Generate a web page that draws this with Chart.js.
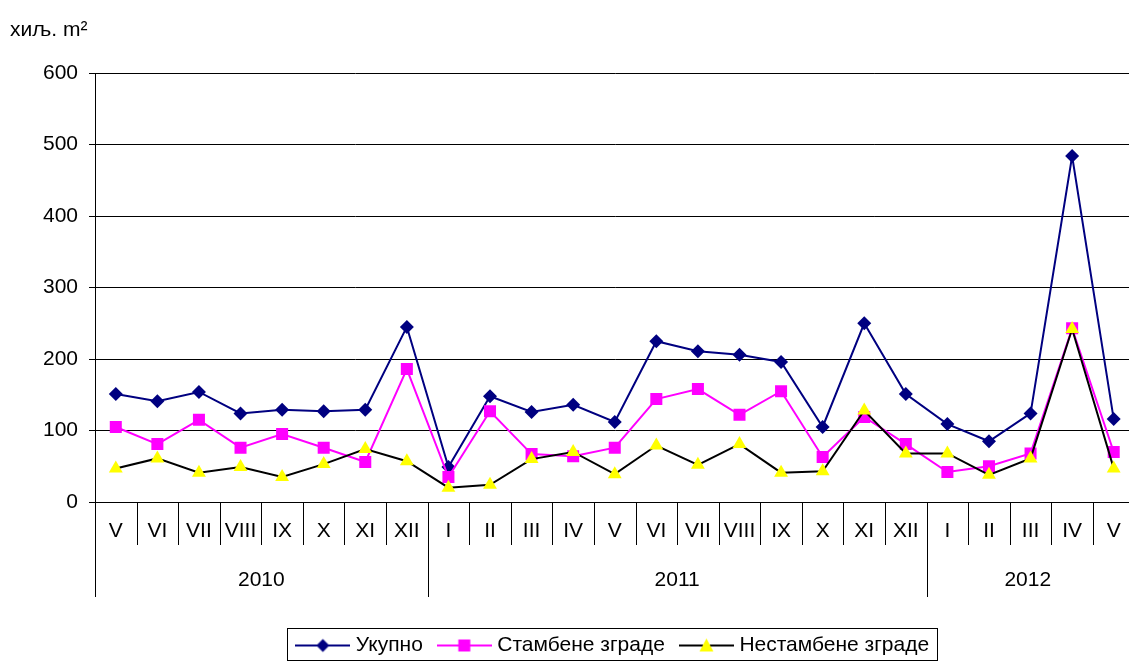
<!DOCTYPE html>
<html lang="sr">
    <head>
        <meta charset="UTF-8" />
        <title>Површина зграда</title>
        <script src="https://cdn.jsdelivr.net/npm/chart.js"></script>
        <style>
            body {
                margin: 0;
                overflow: hidden;
                background: #fff;
                font-family: "Liberation Sans", Arial, sans-serif;
            }
            .chart-container {
                position: relative;
                width: 1143px;
                height: 666px;
            }
        </style>
    </head>
    <body>
        <div class="chart-container">
            <canvas id="areaChart"></canvas>
        </div>

        <script>
            const months = ["V", "VI", "VII", "VIII", "IX", "X", "XI", "XII",
                "I", "II", "III", "IV", "V", "VI", "VII", "VIII", "IX", "X", "XI", "XII",
                "I", "II", "III", "IV", "V"];
            const yearLabels = ["2010", "2011", "2012"];
            const yearSpans = [8, 12, 5];

            const ukupno = [151, 141, 154, 124, 129, 127, 129, 245,
                49, 148, 126, 136, 112, 225, 211, 206, 196, 105, 250, 151,
                109, 85, 124, 484, 116];
            const stambene = [105, 81, 115, 76, 95, 76, 56, 186,
                35, 127, 67, 64, 76, 144, 158, 122, 155, 63, 119, 81,
                42, 50, 68, 243, 70];
            const nestambene = [47, 61, 41, 49, 35, 53, 74, 57,
                20, 24, 60, 70, 39, 79, 52, 81, 41, 43, 128, 68,
                68, 38, 61, 242, 47];

            const FONT = "'Liberation Sans', Arial, sans-serif";
            const FSIZE = 21;

            // small line+marker pictures for the legend
            function legendIcon(lineColor, marker, fill) {
                const c = document.createElement("canvas");
                c.width = 55;
                c.height = 16;
                const g = c.getContext("2d");
                g.strokeStyle = lineColor;
                g.lineWidth = 2;
                g.beginPath();
                g.moveTo(0, 8);
                g.lineTo(55, 8);
                g.stroke();
                g.fillStyle = fill;
                g.beginPath();
                if (marker === "diamond") {
                    g.moveTo(27.5, 1.5); g.lineTo(34, 8); g.lineTo(27.5, 14.5); g.lineTo(21, 8);
                } else if (marker === "square") {
                    g.rect(21.5, 2, 12, 12);
                } else {
                    g.moveTo(27.5, 1); g.lineTo(34.5, 14); g.lineTo(20.5, 14);
                }
                g.closePath();
                g.fill();
                return c;
            }

            const axisGroups = {
                id: "axisGroups",
                afterDraw(chart) {
                    const ctx = chart.ctx;
                    const x = chart.scales.x;
                    const step = x.getPixelForValue(1) - x.getPixelForValue(0);
                    const top = x.top;
                    const yearEdges = [0];
                    yearSpans.forEach((n) => yearEdges.push(yearEdges[yearEdges.length - 1] + n));

                    ctx.save();
                    ctx.strokeStyle = "#000";
                    ctx.lineWidth = 1;
                    for (let i = 0; i <= months.length; i++) {
                        const px = Math.round(x.getPixelForValue(i) - step / 2) + 0.5;
                        const len = yearEdges.includes(i) ? 95 : 43;
                        ctx.beginPath();
                        ctx.moveTo(px, top);
                        ctx.lineTo(px, top + len);
                        ctx.stroke();
                    }

                    ctx.fillStyle = "#000";
                    ctx.font = FSIZE + "px " + FONT;
                    ctx.textAlign = "center";
                    ctx.textBaseline = "middle";
                    yearLabels.forEach((label, k) => {
                        const a = x.getPixelForValue(yearEdges[k]) - step / 2;
                        const b = x.getPixelForValue(yearEdges[k + 1]) - step / 2;
                        ctx.fillText(label, (a + Math.min(b, 1129)) / 2, top + 78);
                    });

                    // frame round the legend
                    const boxes = chart.legend.legendHitBoxes;
                    if (boxes && boxes.length) {
                        const first = boxes[0];
                        const last = boxes[boxes.length - 1];
                        const l = Math.round(first.left - 13) + 0.5;
                        const r = Math.round(last.left + last.width + 8) + 0.5;
                        const t = Math.round(first.top - 7) + 0.5;
                        const b = Math.round(first.top + first.height + 4) + 0.5;
                        ctx.strokeStyle = "#000";
                        ctx.strokeRect(l, t, r - l, b - t);
                    }
                    ctx.restore();
                },
            };

            new Chart(document.getElementById("areaChart"), {
                type: "line",
                data: {
                    labels: months,
                    datasets: [
                        {
                            label: "Укупно",
                            data: ukupno,
                            borderColor: "#000080",
                            backgroundColor: "#000080",
                            borderWidth: 2,
                            pointStyle: "rectRot",
                            pointRadius: 7,
                            pointBorderWidth: 0,
                            tension: 0,
                            order: 3,
                        },
                        {
                            label: "Стамбене зграде",
                            data: stambene,
                            borderColor: "#FF00FF",
                            backgroundColor: "#FF00FF",
                            borderWidth: 2,
                            pointStyle: "rect",
                            pointRadius: 8.5,
                            pointBorderWidth: 0,
                            tension: 0,
                            order: 2,
                        },
                        {
                            label: "Нестамбене зграде",
                            data: nestambene,
                            borderColor: "#000000",
                            backgroundColor: "#FFFF00",
                            pointBackgroundColor: "#FFFF00",
                            borderWidth: 2,
                            pointStyle: "triangle",
                            pointRadius: 8,
                            pointBorderWidth: 0,
                            tension: 0,
                            order: 1,
                        },
                    ],
                },
                options: {
                    responsive: true,
                    maintainAspectRatio: false,
                    animation: false,
                    layout: {
                        padding: { left: 10, right: 1, top: 18, bottom: 0 },
                    },
                    plugins: {
                        tooltip: { enabled: false },
                        title: {
                            display: true,
                            text: "хиљ. m²",
                            align: "start",
                            color: "#000",
                            font: { family: FONT, size: FSIZE, weight: "normal" },
                            padding: { top: 0, bottom: 30 },
                        },
                        legend: {
                            position: "bottom",
                            fullSize: false,
                            labels: {
                                color: "#000",
                                font: { family: FONT, size: FSIZE },
                                usePointStyle: true,
                                pointStyleWidth: 45,
                                padding: 19,
                                generateLabels() {
                                    return [
                                        { text: "Укупно", pointStyle: legendIcon("#000080", "diamond", "#000080"), lineWidth: 0, datasetIndex: 0 },
                                        { text: "Стамбене зграде", pointStyle: legendIcon("#FF00FF", "square", "#FF00FF"), lineWidth: 0, datasetIndex: 1 },
                                        { text: "Нестамбене зграде", pointStyle: legendIcon("#000000", "triangle", "#FFFF00"), lineWidth: 0, datasetIndex: 2 },
                                    ];
                                },
                            },
                        },
                    },
                    scales: {
                        x: {
                            offset: true,
                            grid: { display: false },
                            border: { display: true, color: "#000", width: 1 },
                            ticks: {
                                color: "#000",
                                font: { family: FONT, size: FSIZE },
                                padding: 9,
                                autoSkip: false,
                                maxRotation: 0,
                            },
                            afterFit(scale) {
                                scale.height = 114;
                            },
                        },
                        y: {
                            min: 0,
                            max: 600,
                            ticks: {
                                stepSize: 100,
                                color: "#000",
                                font: { family: FONT, size: FSIZE },
                                padding: 11,
                            },
                            grid: { color: "#000", lineWidth: 1, tickLength: 6 },
                            border: { display: true, color: "#000", width: 1 },
                            afterFit(scale) {
                                scale.width = 85;
                            },
                        },
                    },
                },
                plugins: [axisGroups],
            });
        </script>
    </body>
</html>
